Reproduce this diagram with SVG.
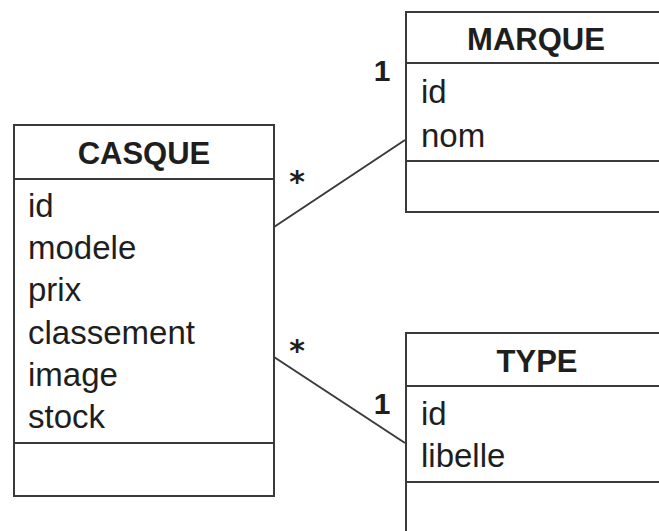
<svg xmlns="http://www.w3.org/2000/svg" width="659" height="531" viewBox="0 0 659 531">
<style>
.box{fill:#fff;stroke:#3a3a3a;stroke-width:2}
.sep{stroke:#3a3a3a;stroke-width:2}
.title{font-family:"Liberation Sans",Arial,sans-serif;font-weight:bold;font-size:31px;fill:#1e1e1e;text-anchor:middle}
.attr{font-family:"Liberation Sans",Arial,sans-serif;font-size:33px;fill:#1e1e1e}
.mult{font-family:"Liberation Sans",Arial,sans-serif;font-weight:bold;font-size:30px;fill:#1e1e1e;text-anchor:middle}
.star{font-family:"DejaVu Sans",sans-serif;font-weight:bold;font-size:30px;fill:#1e1e1e;text-anchor:middle}
.conn{stroke:#3a3a3a;stroke-width:2;fill:none}
</style>
<rect width="659" height="531" fill="#fff"/>
<g id="connectors">
<line class="conn" x1="274" y1="227" x2="405" y2="140"/>
<line class="conn" x1="274" y1="357" x2="405" y2="443"/>
<text class="star" x="297" y="192">*</text>
<text class="mult" x="382" y="81">1</text>
<text class="star" x="297" y="361">*</text>
<text class="mult" x="382" y="414">1</text>
</g>
<g id="casque">
<rect class="box" x="14" y="125" width="260" height="371"/>
<line class="sep" x1="14" y1="179" x2="274" y2="179"/>
<line class="sep" x1="14" y1="443" x2="274" y2="443"/>
<text class="title" x="144" y="164">CASQUE</text>
<text class="attr" x="28" y="217">id</text>
<text class="attr" x="28" y="259">modele</text>
<text class="attr" x="28" y="301">prix</text>
<text class="attr" x="28" y="344">classement</text>
<text class="attr" x="28" y="386">image</text>
<text class="attr" x="28" y="428">stock</text>
</g>
<g id="marque">
<rect class="box" x="406" y="12" width="270" height="200"/>
<line class="sep" x1="406" y1="63" x2="676" y2="63"/>
<line class="sep" x1="406" y1="161" x2="676" y2="161"/>
<text class="title" x="536" y="50">MARQUE</text>
<text class="attr" x="421" y="103">id</text>
<text class="attr" x="421" y="147">nom</text>
</g>
<g id="type">
<rect class="box" x="406" y="333" width="270" height="220"/>
<line class="sep" x1="406" y1="386" x2="676" y2="386"/>
<line class="sep" x1="406" y1="482" x2="676" y2="482"/>
<text class="title" x="537" y="372">TYPE</text>
<text class="attr" x="421" y="425">id</text>
<text class="attr" x="421" y="467">libelle</text>
</g>
</svg>
